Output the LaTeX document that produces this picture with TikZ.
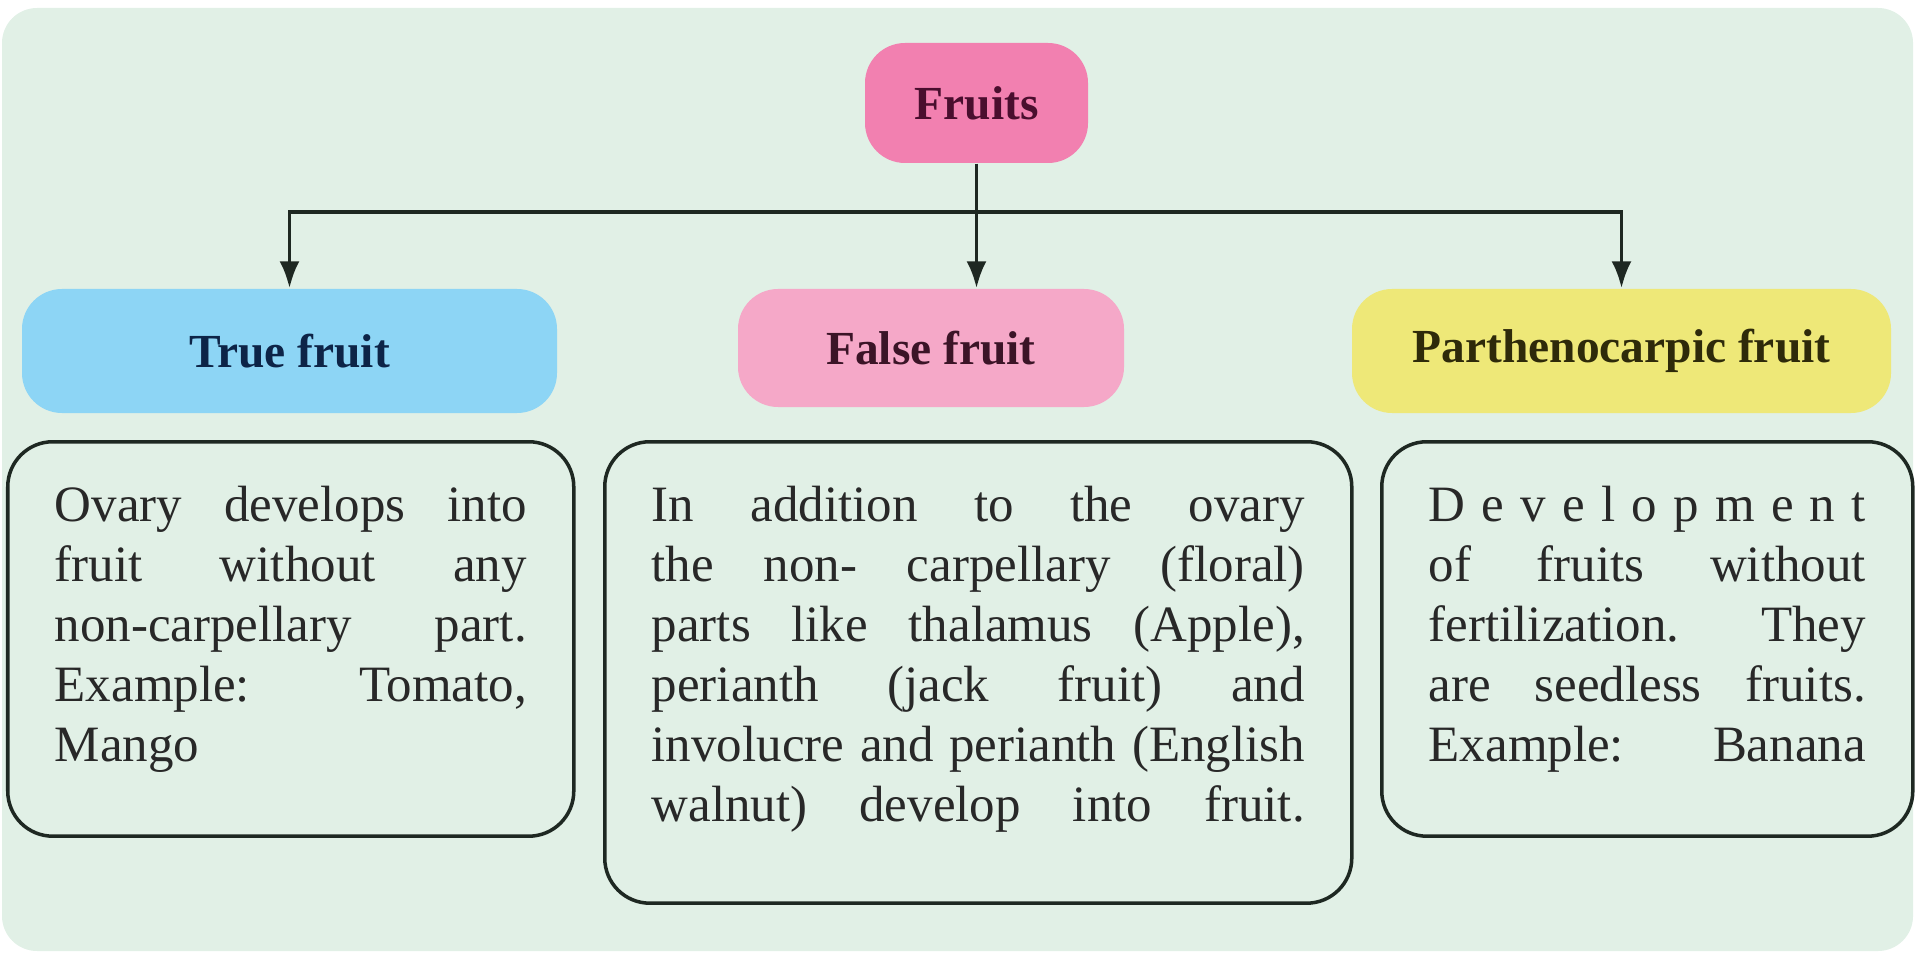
\documentclass[tikz,border=0pt]{standalone}
\usepackage{fontspec}
\setmainfont{Liberation Serif}
\usetikzlibrary{arrows.meta}

\definecolor{panelbg}{RGB}{225,240,230}
\definecolor{fruitspink}{RGB}{242,128,176}
\definecolor{truebl}{RGB}{141,213,245}
\definecolor{falsepink}{RGB}{245,168,200}
\definecolor{parthyel}{RGB}{238,232,120}
\definecolor{inkdark}{RGB}{30,40,34}
\definecolor{bodytxt}{RGB}{40,40,40}
\definecolor{fruitsink}{RGB}{74,14,46}
\definecolor{trueink}{RGB}{13,36,71}
\definecolor{falseink}{RGB}{59,20,39}
\definecolor{parthink}{RGB}{46,42,10}

% a line spread over the whole text width
\newcommand{\justline}[1]{\makebox[\linewidth][s]{\spaceskip=.25em plus 1fil\xspaceskip=.25em plus 1fil\relax #1}}

\begin{document}
\begin{tikzpicture}[
    head/.style={rounded corners=0.4cm, inner sep=0pt, minimum height=1.24cm, font=\fontsize{13.5}{16}\selectfont\bfseries},
    desc/.style={draw=inkdark, line width=1pt, rounded corners=0.45cm, anchor=north west,
        inner xsep=0.47cm, inner ysep=0.44cm, text=bodytxt, font=\fontsize{14.5}{17.07}\selectfont,
        execute at end node={\rule[-#1]{0pt}{#1}}},
    link/.style={draw=inkdark, line width=1.1pt, -{Latex[length=2.7mm, width=2mm]}}
]
    \useasboundingbox (0,0) rectangle (19.15,-9.53);
    \fill[panelbg, rounded corners=0.35cm] (0.02,-0.08) rectangle (19.13,-9.51);

    % Root and category boxes
    \node[head, fill=fruitspink, text=fruitsink, minimum width=2.23cm, minimum height=1.20cm] (fruits) at (9.765,-1.03) {Fruits};
    \node[head, fill=truebl, text=trueink, minimum width=5.35cm] (truefruit) at (2.895,-3.51) {True fruit};
    \node[head, fill=falsepink, text=falseink, minimum width=3.86cm, minimum height=1.18cm] (falsefruit) at (9.31,-3.48) {False fruit};
    \node[head, fill=parthyel, text=parthink, minimum width=5.39cm] (parth) at (16.215,-3.51) {Parthenocarpic fruit};

    % Description boxes
    \node[desc=0.311cm, text width=4.72cm] (truedesc) at (0.06,-4.40) {%
        \justline{Ovary develops into}\\
        \justline{fruit without any}\\
        \justline{non-carpellary part.}\\
        \justline{Example: Tomato,}\\
        Mango};
    \node[desc=0.381cm, text width=6.53cm] (falsedesc) at (6.03,-4.40) {%
        \justline{In addition to the ovary}\\
        \justline{the non- carpellary (floral)}\\
        \justline{parts like thalamus (Apple),}\\
        \justline{perianth (jack fruit) and}\\
        \justline{involucre and perianth (English}\\
        \justline{walnut) develop into fruit.}};
    \node[desc=0.311cm, text width=4.37cm] (parthdesc) at (13.80,-4.40) {%
        \justline{D\hfill e\hfill v\hfill e\hfill l\hfill o\hfill p\hfill m\hfill e\hfill n\hfill t}\\
        \justline{of fruits without}\\
        \justline{fertilization. They}\\
        \justline{are seedless fruits.}\\
        \justline{Example: Banana}};

    % Branching arrows
    \coordinate (split) at (9.765,-2.12);
    \draw[link] (fruits.south) -- (fruits.south |- falsefruit.north);
    \draw[link] (split) -| (truefruit.north);
    \draw[link] (split) -| (parth.north);
\end{tikzpicture}
\end{document}
